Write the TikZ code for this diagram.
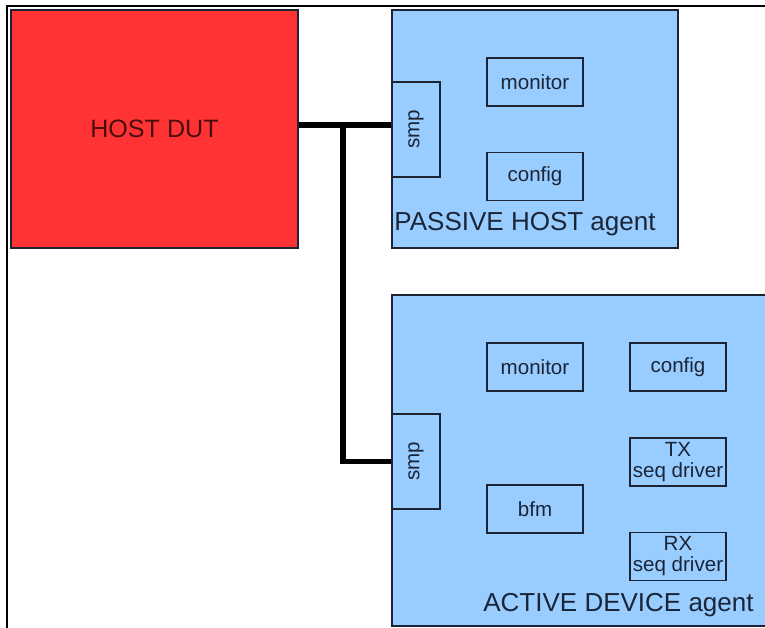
\documentclass[tikz,border=0pt]{standalone}
\usepackage{fontspec}
\setmainfont{Liberation Sans}
\definecolor{dutred}{HTML}{FF3333}
\definecolor{agentblue}{HTML}{99CCFF}
\definecolor{edge}{HTML}{1C2433}
\definecolor{ink}{HTML}{1A2538}
\definecolor{dutink}{HTML}{4A0E0E}
\tikzset{
  dutbox/.style={draw=edge,fill=dutred,line width=0.9pt,text=dutink,font=\fontsize{14.3}{16}\selectfont},
  agentbox/.style={draw=edge,fill=agentblue,line width=0.9pt},
  unitbox/.style={draw=edge,fill=agentblue,line width=0.8pt,text=ink,minimum width=1.92cm,minimum height=0.96cm,inner sep=0pt,align=center,font=\fontsize{11.7}{12}\selectfont},
  smpbox/.style={draw=edge,fill=agentblue,line width=0.8pt,text=ink,minimum width=0.96cm,minimum height=1.9cm,inner sep=0pt,font=\fontsize{11.7}{12}\selectfont},
  agentname/.style={text=ink,anchor=base,inner sep=0pt,font=\fontsize{14.8}{16}\selectfont},
  wire/.style={line width=3pt,line join=miter}
}
\begin{document}
\begin{tikzpicture}[x=0.02cm,y=-0.02cm]
\useasboundingbox (0,0) rectangle (765,628);
\clip (0,0) rectangle (765,628);
% frame of the page
\draw[line width=0.6pt] (766,6) -- (7,6) -- (7,630);

% host side
\node[dutbox,minimum width=5.74cm,minimum height=4.76cm] (dut) at (154.5,129) {HOST DUT};

% passive agent
\draw[agentbox] (392,10) rectangle (678,248);
\node[smpbox] (psmp) at (416,129.5) {\rotatebox{90}{smp}};
\node[unitbox] (pmon) at (535,82) {monitor};
\node[unitbox] (pcfg) at (535,176.5) {config};
\node[agentname] (pname) at (525,231) {PASSIVE HOST agent};

% active agent
\draw[agentbox] (392,295) rectangle (775,626);
\node[smpbox] (asmp) at (416,461.5) {\rotatebox{90}{smp}};
\node[unitbox] (amon) at (535,367) {monitor};
\node[unitbox] (acfg) at (678,367) {config};
\node[unitbox] (atx) at (678,462) {TX\\seq driver};
\node[unitbox] (abfm) at (535,509) {bfm};
\node[unitbox] (arx) at (678,556.5) {RX\\seq driver};
\node[agentname] (aname) at (618.5,611) {ACTIVE DEVICE agent};

% wiring
\coordinate (j) at (343,125);
\draw[wire] (dut.east |- j) -- (psmp.west |- j);
\draw[wire] (j) |- (asmp.west);
\end{tikzpicture}
\end{document}
